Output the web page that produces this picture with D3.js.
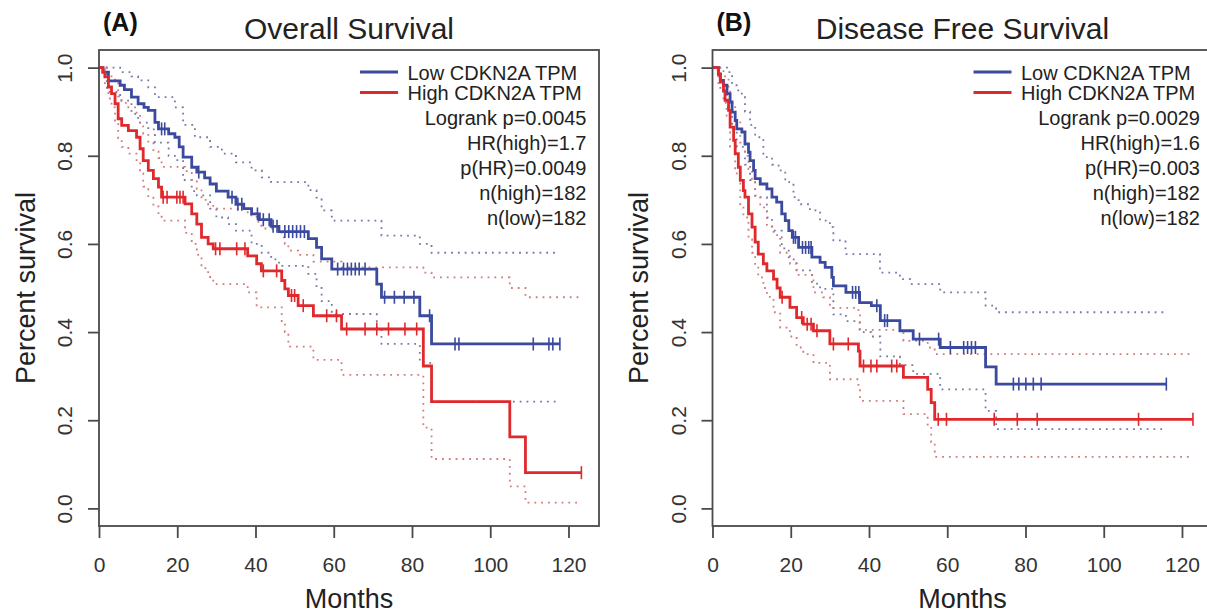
<!DOCTYPE html>
<html>
<head>
<meta charset="utf-8">
<script src="https://cdn.jsdelivr.net/npm/d3@7"></script>
<style>
  body { margin: 0; background: #fff; }
  svg { display: block; font-family: 'Liberation Sans', Arial, Helvetica, sans-serif; }
</style>
</head>
<body>
<div id="chart"></div>
<script>
// ---------- data ----------

const groupLabels = ['Low CDKN2A TPM', 'High CDKN2A TPM']
const xTicks = [0, 20, 40, 60, 80, 100, 120]
const yTicks = [0, 0.2, 0.4, 0.6, 0.8, 1.0]

// (A) Overall survival
const osStats = ['Logrank p=0.0045', 'HR(high)=1.7', 'p(HR)=0.0049', 'n(high)=182', 'n(low)=182']
const osLowSteps = [[0, 1], [1, 0.99], [2.4, 0.97], [5.4, 0.96], [6.5, 0.95], [8.3, 0.933], [10, 0.918], [11.5, 0.91], [12.6, 0.903], [14.3, 0.876], [15.2, 0.861], [17.8, 0.85], [19.4, 0.842], [20.5, 0.82], [21.5, 0.797], [23.7, 0.774], [25, 0.763], [27, 0.75], [28.4, 0.736], [30, 0.72], [33, 0.706], [35, 0.69], [37, 0.68], [39, 0.668], [41, 0.655], [44, 0.64], [46, 0.628], [53.5, 0.612], [55.6, 0.592], [56.9, 0.566], [59.5, 0.543], [71, 0.509], [72.2, 0.479], [82, 0.437], [85, 0.373]]
const osLowEnd = 117.8
const osLowCensor = [16, 16.8, 25.5, 34, 35.5, 36.5, 40.5, 42, 43.5, 44.5, 45.5, 47.5, 48.5, 49.5, 50.5, 51.5, 52.5, 61, 62.5, 63.5, 64.5, 65.5, 66.5, 68, 73, 75.5, 78, 80.5, 84.5, 91, 92, 111, 115, 116, 117.8]
const osLowUpper = [[0, 1], [2, 1], [5.4, 0.99], [8.3, 0.98], [10, 0.971], [12.6, 0.955], [14.3, 0.933], [19.4, 0.91], [21.5, 0.87], [24.5, 0.842], [28.4, 0.82], [31.4, 0.805], [35, 0.785], [39, 0.767], [41.6, 0.751], [44, 0.74], [53.5, 0.722], [55.6, 0.705], [56.9, 0.676], [59.5, 0.653], [72.2, 0.619], [82, 0.6], [85, 0.58]]
const osLowLower = [[0, 1], [2, 0.945], [5.4, 0.925], [8.3, 0.895], [10, 0.875], [12.6, 0.86], [14.3, 0.83], [17.8, 0.8], [19.4, 0.79], [21.5, 0.745], [23.7, 0.72], [25, 0.71], [28.4, 0.68], [30, 0.66], [33, 0.645], [35, 0.63], [39, 0.6], [41.6, 0.58], [44, 0.565], [46, 0.55], [53.5, 0.532], [55.6, 0.5], [56.9, 0.47], [59.5, 0.441], [71, 0.41], [72.2, 0.373], [82, 0.33], [85, 0.242]]

const osHighSteps = [[0, 1], [1, 0.99], [1.5, 0.979], [2.4, 0.956], [3.2, 0.941], [4.1, 0.918], [4.9, 0.884], [5.8, 0.869], [7.5, 0.857], [9.6, 0.842], [10.5, 0.816], [11.3, 0.789], [12.6, 0.767], [13.9, 0.748], [15.2, 0.729], [16, 0.706], [22, 0.691], [23.7, 0.668], [25, 0.645], [26.2, 0.615], [27.9, 0.6], [29.2, 0.589], [38, 0.573], [40.3, 0.555], [41.5, 0.539], [46.7, 0.517], [47.5, 0.498], [48.4, 0.483], [50.9, 0.46], [54.8, 0.437], [62, 0.407], [82.9, 0.323], [85, 0.242], [105, 0.162], [109, 0.081]]
const osHighEnd = 123.3
const osHighCensor = [16.4, 17.4, 19.9, 20.7, 21.5, 29.8, 30.9, 35.2, 37.3, 42, 45.4, 49.2, 50, 52.2, 58.2, 60.7, 63.3, 68, 71, 74, 78.2, 81.2, 123.3]
const osHighUpper = [[0, 1], [1.5, 1], [2.4, 0.99], [3.2, 0.98], [4.1, 0.965], [4.9, 0.935], [5.8, 0.92], [7.5, 0.91], [9.6, 0.895], [10.5, 0.87], [11.3, 0.85], [12.6, 0.83], [13.9, 0.81], [15.2, 0.795], [16, 0.775], [22, 0.765], [23.7, 0.745], [25, 0.725], [26.2, 0.7], [27.9, 0.69], [29.2, 0.68], [38, 0.665], [40.3, 0.65], [41.5, 0.635], [46.7, 0.615], [47.5, 0.6], [48.4, 0.585], [50.9, 0.575], [54.8, 0.56], [62, 0.547], [82.9, 0.535], [85, 0.524], [105, 0.5], [109, 0.479]]
const osHighLower = [[0, 1], [1.5, 0.955], [2.4, 0.93], [3.2, 0.91], [4.1, 0.88], [4.9, 0.84], [5.8, 0.82], [7.5, 0.805], [9.6, 0.79], [10.5, 0.76], [11.3, 0.73], [12.6, 0.705], [13.9, 0.685], [15.2, 0.665], [16, 0.653], [22, 0.625], [23.7, 0.6], [25, 0.575], [26.2, 0.545], [27.9, 0.525], [29.2, 0.509], [38, 0.49], [40.3, 0.456], [46.7, 0.42], [47.5, 0.4], [48.4, 0.367], [54.8, 0.337], [62, 0.303], [82.9, 0.183], [85, 0.112], [105, 0.05], [109, 0.013]]

// (B) Disease free survival
const dfsStats = ['Logrank p=0.0029', 'HR(high)=1.6', 'p(HR)=0.003', 'n(high)=182', 'n(low)=182']
const dfsLowSteps = [[0, 1], [1.5, 0.985], [2, 0.971], [2.8, 0.96], [3.7, 0.941], [4.5, 0.922], [5, 0.899], [5.8, 0.88], [6.2, 0.861], [7.5, 0.854], [8.3, 0.827], [9.2, 0.808], [9.6, 0.789], [10.5, 0.767], [10.9, 0.748], [12.2, 0.736], [13.9, 0.725], [15.2, 0.706], [16.4, 0.695], [17.7, 0.668], [18.6, 0.653], [19.5, 0.63], [20.4, 0.615], [22, 0.592], [25.4, 0.57], [27.5, 0.558], [28.8, 0.547], [30.5, 0.524], [30.9, 0.505], [34.1, 0.49], [37.6, 0.467], [40.6, 0.46], [42.9, 0.426], [47.9, 0.403], [51.3, 0.384], [58.2, 0.365], [69.8, 0.321], [72.5, 0.282]]
const dfsLowEnd = 116
const dfsLowCensor = [20.7, 21.2, 23, 23.8, 24.6, 25.2, 35.8, 36.6, 37.4, 42, 44, 44.7, 52.9, 57.8, 60.8, 64.2, 65.2, 66.2, 67.2, 76.9, 78.3, 80.1, 82, 84, 116]
const dfsLowUpper = [[0, 1], [2, 1], [3.7, 0.99], [5, 0.96], [6.6, 0.941], [8.3, 0.9], [9.6, 0.87], [10.9, 0.842], [13, 0.797], [15.2, 0.78], [16.9, 0.767], [18.6, 0.74], [20.7, 0.706], [22, 0.69], [24.9, 0.676], [27.5, 0.653], [30, 0.638], [30.9, 0.608], [34, 0.577], [42.8, 0.535], [47.9, 0.52], [50.5, 0.509], [58.2, 0.49], [69.8, 0.46], [72.5, 0.445]]
const dfsLowLower = [[0, 1], [2, 0.945], [3.7, 0.91], [5, 0.86], [6.2, 0.82], [8.3, 0.78], [9.6, 0.745], [10.9, 0.706], [13.9, 0.66], [15.2, 0.63], [17.7, 0.59], [19.5, 0.565], [21.5, 0.54], [25.4, 0.51], [27.5, 0.498], [30.9, 0.44], [34.1, 0.425], [37.6, 0.4], [40.6, 0.39], [42.9, 0.345], [47.9, 0.325], [51.3, 0.305], [58.2, 0.27], [69.8, 0.221], [72.5, 0.18]]

const dfsHighSteps = [[0, 1], [1.5, 0.986], [2, 0.967], [2.8, 0.948], [3.2, 0.926], [4.1, 0.903], [4.5, 0.865], [5.4, 0.835], [5.8, 0.805], [6.6, 0.774], [7.1, 0.744], [7.9, 0.721], [8.3, 0.706], [9.2, 0.668], [10.1, 0.638], [10.9, 0.604], [11.7, 0.577], [13, 0.555], [13.9, 0.539], [15.6, 0.52], [16.5, 0.5], [17.3, 0.479], [19.8, 0.456], [21.5, 0.433], [23.2, 0.418], [25.8, 0.403], [30, 0.373], [37.3, 0.357], [37.7, 0.323], [48.8, 0.297], [55, 0.27], [55.9, 0.24], [56.8, 0.202]]
const dfsHighEnd = 122.8
const dfsHighCensor = [17.8, 22.8, 24.2, 25.2, 26.7, 30.9, 34.7, 38.6, 40.5, 42, 45.8, 47.1, 57.7, 59.8, 72, 77.9, 83, 108.9, 122.8]
const dfsHighUpper = [[0, 1], [1.5, 1], [2.8, 0.98], [4.1, 0.95], [4.5, 0.92], [5.8, 0.88], [7.1, 0.83], [8.3, 0.8], [9.2, 0.77], [10.1, 0.74], [10.9, 0.71], [12.2, 0.683], [13.9, 0.64], [15.6, 0.62], [17.3, 0.58], [19.8, 0.555], [21.5, 0.53], [25.8, 0.49], [28.3, 0.479], [30, 0.455], [37.3, 0.44], [37.7, 0.405], [48.8, 0.38], [55, 0.365], [56.8, 0.35]]
const dfsHighLower = [[0, 1], [1.5, 0.96], [2.8, 0.92], [3.6, 0.885], [4.5, 0.82], [5.8, 0.76], [7.1, 0.69], [7.9, 0.66], [9.2, 0.61], [10.1, 0.58], [10.9, 0.55], [11.7, 0.524], [13, 0.5], [13.9, 0.48], [15.6, 0.445], [17.3, 0.41], [19.8, 0.39], [21.5, 0.365], [23.2, 0.35], [25.8, 0.33], [30, 0.293], [37.3, 0.28], [37.7, 0.244], [48.8, 0.214], [55, 0.185], [55.9, 0.15], [56.8, 0.117]]

// ---------- layout ----------

const W = 1207
const H = 613
const boxTop = 50
const boxBottom = 526
const boxW = 500
const lowColor = '#3b4a9e'
const highColor = '#e0292d'
const lowBandColor = '#737aa6'
const highBandColor = '#d07c7c'
const textColor = '#222'
const axisColor = '#4a4a4a'

const panels = [
  {
    left: 99,
    tag: '(A)',
    title: 'Overall Survival',
    stats: osStats,
    groups: [
      { color: lowColor, band: lowBandColor, steps: osLowSteps, end: osLowEnd, censor: osLowCensor, upper: osLowUpper, lower: osLowLower },
      { color: highColor, band: highBandColor, steps: osHighSteps, end: osHighEnd, censor: osHighCensor, upper: osHighUpper, lower: osHighLower }
    ]
  },
  {
    left: 712.5,
    tag: '(B)',
    title: 'Disease Free Survival',
    stats: dfsStats,
    groups: [
      { color: lowColor, band: lowBandColor, steps: dfsLowSteps, end: dfsLowEnd, censor: dfsLowCensor, upper: dfsLowUpper, lower: dfsLowLower },
      { color: highColor, band: highBandColor, steps: dfsHighSteps, end: dfsHighEnd, censor: dfsHighCensor, upper: dfsHighUpper, lower: dfsHighLower }
    ]
  }
]

const svg = d3.select('#chart')
  .append('svg')
  .attr('width', W)
  .attr('height', H)

svg.append('rect')
  .attr('width', W)
  .attr('height', H)
  .style('fill', '#fff')

// value of a step function at time t
function stepValue (steps, t) {
  let v = steps[0][1]
  for (let i = 0; i < steps.length; i++) {
    if (steps[i][0] <= t) v = steps[i][1]
  }
  return v
}

// close a step list at the last follow-up time
function withEnd (steps, end) {
  return steps.concat([[end, steps[steps.length - 1][1]]])
}

function drawPanel (p) {
  const right = p.left + boxW
  const x = d3.scaleLinear().domain([0, 127.8]).range([p.left, right])
  const y = d3.scaleLinear().domain([-0.04, 1.04]).range([boxBottom, boxTop])
  const g = svg.append('g')

  const stepLine = d3.line()
    .x(d => x(d[0]))
    .y(d => y(d[1]))
    .curve(d3.curveStepAfter)

  // confidence bands, dotted
  p.groups.forEach(function (grp) {
    [grp.upper, grp.lower].forEach(function (band) {
      g.append('path')
        .attr('d', stepLine(withEnd(band, grp.end)))
        .style('fill', 'none')
        .style('stroke', grp.band)
        .style('stroke-width', 1.8)
        .style('stroke-dasharray', '1.8,5')
    })
  })

  // survival curves with censor marks
  p.groups.forEach(function (grp) {
    g.append('path')
      .attr('d', stepLine(withEnd(grp.steps, grp.end)))
      .style('fill', 'none')
      .style('stroke', grp.color)
      .style('stroke-width', 2.8)

    g.selectAll(null)
      .data(grp.censor)
      .enter()
      .append('line')
      .attr('x1', d => x(d))
      .attr('x2', d => x(d))
      .attr('y1', d => y(stepValue(grp.steps, d)) - 6.5)
      .attr('y2', d => y(stepValue(grp.steps, d)) + 6.5)
      .style('stroke', grp.color)
      .style('stroke-width', 1.6)
  })

  // frame
  g.append('rect')
    .attr('x', p.left)
    .attr('y', boxTop)
    .attr('width', boxW)
    .attr('height', boxBottom - boxTop)
    .style('fill', 'none')
    .style('stroke', axisColor)
    .style('stroke-width', 1.8)

  // x axis
  const xAxis = g.append('g')
    .attr('transform', 'translate(0,' + boxBottom + ')')
    .call(d3.axisBottom(x).tickValues(xTicks).tickSize(12).tickSizeOuter(0).tickPadding(19))
  xAxis.select('.domain').remove()
  xAxis.selectAll('line').style('stroke', axisColor).style('stroke-width', 1.8)
  xAxis.selectAll('text')
    .attr('font-size', 21)
    .attr('font-family', null)
    .style('fill', '#333')

  // y axis with rotated labels
  const yAxis = g.append('g')
    .attr('transform', 'translate(' + p.left + ',0)')
    .call(d3.axisLeft(y).tickValues(yTicks).tickSize(11).tickSizeOuter(0).tickFormat(d3.format('.1f')))
  yAxis.select('.domain').remove()
  yAxis.selectAll('line').style('stroke', axisColor).style('stroke-width', 1.8)
  yAxis.selectAll('text')
    .attr('x', null)
    .attr('dy', null)
    .attr('text-anchor', 'middle')
    .attr('transform', 'translate(-27,0) rotate(-90)')
    .attr('font-size', 21)
    .attr('font-family', null)
    .style('fill', '#333')

  // axis titles
  g.append('text')
    .attr('x', (p.left + right) / 2)
    .attr('y', 608)
    .attr('text-anchor', 'middle')
    .attr('font-size', 27)
    .style('fill', textColor)
    .text('Months')

  g.append('text')
    .attr('transform', 'translate(' + (p.left - 64.5) + ',' + (boxTop + boxBottom) / 2 + ') rotate(-90)')
    .attr('text-anchor', 'middle')
    .attr('font-size', 27)
    .style('fill', textColor)
    .text('Percent survival')

  // title and panel tag
  g.append('text')
    .attr('x', (p.left + right) / 2)
    .attr('y', 39)
    .attr('text-anchor', 'middle')
    .attr('font-size', 30)
    .style('fill', textColor)
    .text(p.title)

  g.append('text')
    .attr('x', p.left + 4)
    .attr('y', 31)
    .attr('font-size', 25)
    .attr('font-weight', 'bold')
    .style('fill', '#111')
    .text(p.tag)

  // legend
  groupLabels.forEach(function (label, i) {
    const ly = 72 + i * 20.5
    g.append('line')
      .attr('x1', right - 239)
      .attr('x2', right - 201)
      .attr('y1', ly)
      .attr('y2', ly)
      .style('stroke', p.groups[i].color)
      .style('stroke-width', 2.8)
    g.append('text')
      .attr('x', right - 191.5)
      .attr('y', ly + 7.5)
      .attr('font-size', 20)
      .style('fill', textColor)
      .text(label)
  })

  p.stats.forEach(function (s, i) {
    g.append('text')
      .attr('x', right - 12.5)
      .attr('y', 125 + i * 25)
      .attr('text-anchor', 'end')
      .attr('font-size', 20)
      .style('fill', textColor)
      .text(s)
  })
}

panels.forEach(drawPanel)
</script>
</body>
</html>
